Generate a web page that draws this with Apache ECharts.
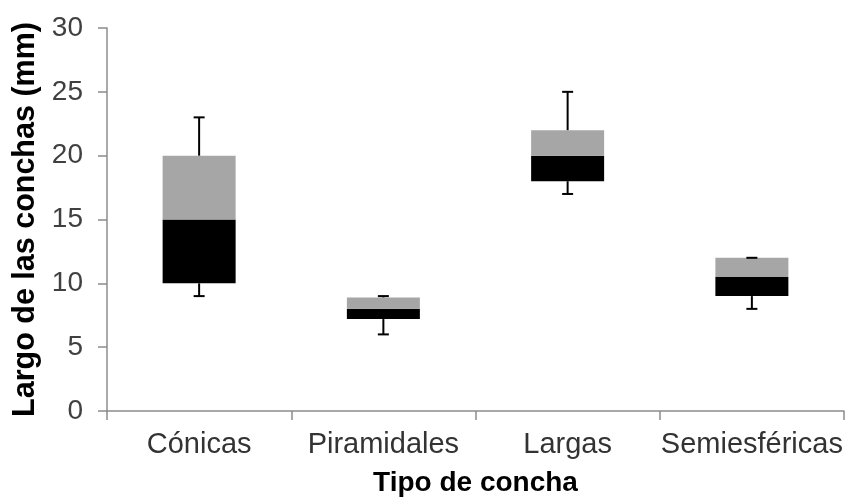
<!DOCTYPE html>
<html>
<head>
<meta charset="utf-8">
<script src="https://cdn.jsdelivr.net/npm/echarts@6/dist/echarts.min.js"></script>
<style>
html,body{margin:0;padding:0;background:#fff;}
#c{width:854px;height:502px;}
</style>
</head>
<body>
<div id="c"></div>
<script>
var categories = ['Cónicas', 'Piramidales', 'Largas', 'Semiesféricas'];
var minVals = [9, 6, 17, 8];
var q1Vals = [10, 7.2, 18, 9];
var medianVals = [15, 8, 20, 10.5];
var q3Vals = [20, 8.9, 22, 12];
var maxVals = [23, 9, 25, 12];
var yTicks = [0, 5, 10, 15, 20, 25, 30];

var lowerBox = medianVals.map(function (m, i) { return +(m - q1Vals[i]).toFixed(3); });
var upperBox = q3Vals.map(function (q, i) { return +(q - medianVals[i]).toFixed(3); });
var whiskerData = categories.map(function (c, i) { return [i, minVals[i], q1Vals[i], q3Vals[i], maxVals[i]]; });

var FONT = 'Liberation Sans, Arial, sans-serif';
var chart = echarts.init(document.getElementById('c'), null, {renderer: 'canvas'});

chart.setOption({
  animation: false,
  backgroundColor: '#ffffff',
  grid: {left: 107, right: 10, top: 28, bottom: 90, containLabel: false},
  xAxis: {
    type: 'category',
    data: categories,
    name: 'Tipo de concha',
    nameLocation: 'middle',
    nameGap: 58,
    nameTextStyle: {fontFamily: FONT, fontWeight: 'bold', fontSize: 28, color: '#000'},
    axisLine: {lineStyle: {color: '#8c8c8c', width: 1.5}},
    axisTick: {show: true, alignWithLabel: false, length: 9, lineStyle: {color: '#8c8c8c', width: 1.5}},
    axisLabel: {fontFamily: FONT, fontSize: 29, color: '#333', margin: 19, interval: 0},
    splitLine: {show: false}
  },
  yAxis: {
    type: 'value',
    min: yTicks[0],
    max: yTicks[yTicks.length - 1],
    interval: 5,
    name: 'Largo de las conchas (mm)',
    nameLocation: 'middle',
    nameGap: 64,
    nameTextStyle: {fontFamily: FONT, fontWeight: 'bold', fontSize: 30.5, color: '#000'},
    axisLine: {show: true, lineStyle: {color: '#8c8c8c', width: 1.5}},
    axisTick: {show: true, length: 9, lineStyle: {color: '#8c8c8c', width: 1.5}},
    axisLabel: {fontFamily: FONT, fontSize: 28, color: '#404040', margin: 24},
    splitLine: {show: false}
  },
  series: [
    {
      type: 'bar', stack: 'box', data: q1Vals, barWidth: 73,
      itemStyle: {color: 'rgba(0,0,0,0)'}, silent: true
    },
    {
      type: 'bar', stack: 'box', data: lowerBox, barWidth: 73,
      itemStyle: {color: '#000000'}
    },
    {
      type: 'bar', stack: 'box', data: upperBox, barWidth: 73,
      itemStyle: {color: '#a6a6a6'}
    },
    {
      type: 'custom',
      data: whiskerData,
      z: 5,
      renderItem: function (params, api) {
        var i = api.value(0);
        var pMin = api.coord([i, api.value(1)]);
        var pQ1 = api.coord([i, api.value(2)]);
        var pQ3 = api.coord([i, api.value(3)]);
        var pMax = api.coord([i, api.value(4)]);
        var half = 5.5;
        var st = {stroke: '#000', lineWidth: 2};
        return {
          type: 'group',
          children: [
            {type: 'line', shape: {x1: pMin[0], y1: pMin[1], x2: pQ1[0], y2: pQ1[1]}, style: st},
            {type: 'line', shape: {x1: pMin[0] - half, y1: pMin[1], x2: pMin[0] + half, y2: pMin[1]}, style: st},
            {type: 'line', shape: {x1: pQ3[0], y1: pQ3[1], x2: pMax[0], y2: pMax[1]}, style: st},
            {type: 'line', shape: {x1: pMax[0] - half, y1: pMax[1], x2: pMax[0] + half, y2: pMax[1]}, style: st}
          ]
        };
      }
    }
  ]
});
</script>
</body>
</html>
